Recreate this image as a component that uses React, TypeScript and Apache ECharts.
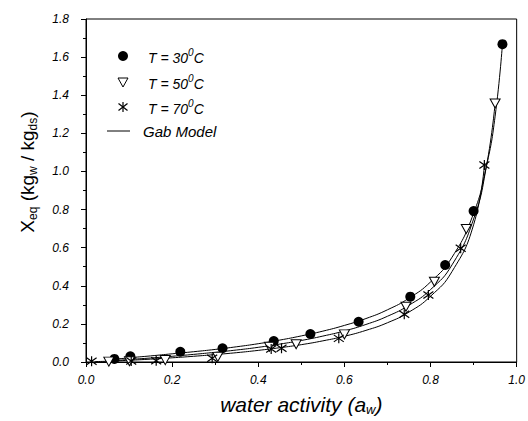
import React, { useEffect, useRef } from "react";
import * as echarts from "echarts";

const aw30 = [0.066, 0.103, 0.219, 0.317, 0.436, 0.521, 0.633, 0.753, 0.834, 0.900, 0.967];
const x30 = [0.016, 0.030, 0.054, 0.072, 0.110, 0.147, 0.211, 0.343, 0.509, 0.792, 1.668];
const aw50 = [0.053, 0.101, 0.184, 0.306, 0.426, 0.488, 0.600, 0.743, 0.809, 0.883, 0.950];
const x50 = [0.002, 0.004, 0.010, 0.027, 0.080, 0.093, 0.145, 0.290, 0.421, 0.698, 1.357];
const aw70 = [0.013, 0.105, 0.163, 0.293, 0.430, 0.454, 0.587, 0.739, 0.795, 0.870, 0.925];
const x70 = [0.004, 0.005, 0.006, 0.020, 0.068, 0.072, 0.124, 0.250, 0.352, 0.597, 1.034];

// GAB model curves
const gab30Aw = [0.05, 0.10, 0.15, 0.20, 0.25, 0.30, 0.35, 0.40, 0.45, 0.50, 0.55, 0.60, 0.65, 0.70, 0.75, 0.80, 0.85, 0.90, 0.93, 0.95, 0.967];
const gab30X = [0.010, 0.022, 0.032, 0.043, 0.054, 0.066, 0.080, 0.096, 0.115, 0.137, 0.162, 0.192, 0.228, 0.274, 0.335, 0.420, 0.550, 0.780, 1.030, 1.290, 1.668];
const gab50Aw = [0.05, 0.10, 0.15, 0.20, 0.25, 0.30, 0.35, 0.40, 0.45, 0.50, 0.55, 0.60, 0.65, 0.70, 0.75, 0.80, 0.85, 0.90, 0.93, 0.95];
const gab50X = [0.005, 0.013, 0.021, 0.030, 0.040, 0.051, 0.063, 0.077, 0.094, 0.113, 0.136, 0.163, 0.197, 0.240, 0.298, 0.380, 0.510, 0.750, 1.030, 1.357];
const gab70Aw = [0.02, 0.05, 0.10, 0.15, 0.20, 0.25, 0.30, 0.35, 0.40, 0.45, 0.50, 0.55, 0.60, 0.65, 0.70, 0.75, 0.80, 0.85, 0.90, 0.925];
const gab70X = [0.002, 0.004, 0.009, 0.015, 0.022, 0.030, 0.039, 0.049, 0.061, 0.075, 0.091, 0.111, 0.135, 0.166, 0.206, 0.262, 0.345, 0.475, 0.720, 1.034];

const xTicks = { min: 0, max: 1, interval: 0.2 };
const yTicks = { min: 0, max: 1.8, interval: 0.2 };

const legendLabels = ["30", "50", "70"];

const FONT = "'Liberation Sans', Arial, sans-serif";
const STAR = "path://M0,-5L0,5M-4.5,-3.5L4.5,3.5M-4.5,3.5L4.5,-3.5";

const zip = (a: number[], b: number[]) => a.map((v, i) => [v, b[i]]);

export default function App() {
  const ref = useRef<HTMLDivElement>(null);
  useEffect(() => {
    document.body.style.margin = "0";
    if (!ref.current) return;
    const chart = echarts.init(ref.current, null, { renderer: "svg" });
    const lineSeries = (d: number[][]) => ({
      type: "line",
      data: d,
      smooth: true,
      symbol: "none",
      lineStyle: { color: "#000", width: 1 },
      z: 2,
    });
    const legendRowY = [56, 82, 107];
    const legendText = (y: number, lbl: string) => ({
      type: "text",
      x: 148,
      y: y,
      style: {
        text: `{a|T = ${lbl}}{s|0}{a|C}`,
        verticalAlign: "middle",
        rich: {
          a: { fontFamily: FONT, fontStyle: "italic", fontSize: 14, fill: "#000", lineHeight: 18, verticalAlign: "bottom" },
          s: { fontFamily: FONT, fontStyle: "italic", fontSize: 10, fill: "#000", lineHeight: 18, verticalAlign: "top", padding: [0, 0, 4, 0] },
        },
      },
    });
    const tickLabel = {
      formatter: (v: number) => v.toFixed(1),
      fontFamily: FONT,
      fontStyle: "italic",
      fontSize: 12,
      color: "#000",
    };
    chart.setOption({
      animation: false,
      backgroundColor: "#fff",
      grid: { left: 86, top: 19, right: 11, bottom: 59, show: true, borderColor: "#000", borderWidth: 1 },
      xAxis: {
        type: "value",
        ...xTicks,
        name: "{n|water activity (a}{sub|w}{n|)}",
        nameLocation: "middle",
        nameGap: 30,
        nameTextStyle: {
          rich: {
            n: { fontFamily: FONT, fontStyle: "italic", fontSize: 21, color: "#000", lineHeight: 24, verticalAlign: "middle" },
            sub: { fontFamily: FONT, fontStyle: "italic", fontSize: 13, color: "#000", lineHeight: 14, verticalAlign: "bottom" },
          },
        },
        axisLine: { show: true, lineStyle: { color: "#000", width: 1 } },
        axisTick: { show: true, inside: false, length: 5, lineStyle: { color: "#000" } },
        minorTick: { show: true, splitNumber: 2, length: 3, lineStyle: { color: "#000" } },
        splitLine: { show: false },
        axisLabel: { ...tickLabel, margin: 12 },
      },
      yAxis: {
        type: "value",
        ...yTicks,
        axisLine: { show: true, lineStyle: { color: "#000", width: 1 } },
        axisTick: { show: true, inside: false, length: 5, lineStyle: { color: "#000" } },
        minorTick: { show: true, splitNumber: 2, length: 3, lineStyle: { color: "#000" } },
        splitLine: { show: false },
        axisLabel: { ...tickLabel, margin: 17 },
      },
      series: [
        lineSeries(zip(gab30Aw, gab30X)),
        lineSeries(zip(gab50Aw, gab50X)),
        lineSeries(zip(gab70Aw, gab70X)),
        {
          type: "scatter",
          data: zip(aw30, x30),
          symbol: "circle",
          symbolSize: 10,
          itemStyle: { color: "#000", opacity: 1 },
          z: 5,
        },
        {
          type: "scatter",
          data: zip(aw50, x50),
          symbol: "triangle",
          symbolRotate: 180,
          symbolSize: [10, 9],
          itemStyle: { color: "#fff", borderColor: "#000", borderWidth: 1, opacity: 1 },
          z: 5,
        },
        {
          type: "scatter",
          data: zip(aw70, x70),
          symbol: STAR,
          symbolSize: 10,
          itemStyle: { color: "#000", borderColor: "#000", borderWidth: 1.2, opacity: 1 },
          z: 6,
        },
      ],
      graphic: [
        {
          type: "text",
          x: 27,
          y: 172,
          rotation: Math.PI / 2,
          style: {
            text: "{n|X}{sub|eq}{n| (kg}{sub|w}{n| / kg}{sub|ds}{n|)}",
            align: "center",
            verticalAlign: "middle",
            rich: {
              n: { fontFamily: FONT, fontSize: 19, fill: "#000", lineHeight: 24, verticalAlign: "middle" },
              sub: { fontFamily: FONT, fontSize: 12, fill: "#000", lineHeight: 12, verticalAlign: "bottom" },
            },
          },
        },
        { type: "circle", shape: { cx: 123, cy: legendRowY[0], r: 5 }, style: { fill: "#000" } },
        {
          type: "polygon",
          shape: { points: [[118, legendRowY[1] - 4], [128, legendRowY[1] - 4], [123, legendRowY[1] + 5]] },
          style: { fill: "#fff", stroke: "#000", lineWidth: 1 },
        },
        { type: "line", shape: { x1: 123, y1: legendRowY[2] - 5, x2: 123, y2: legendRowY[2] + 5 }, style: { stroke: "#000", lineWidth: 1.2 } },
        { type: "line", shape: { x1: 118.5, y1: legendRowY[2] - 3.5, x2: 127.5, y2: legendRowY[2] + 3.5 }, style: { stroke: "#000", lineWidth: 1.2 } },
        { type: "line", shape: { x1: 118.5, y1: legendRowY[2] + 3.5, x2: 127.5, y2: legendRowY[2] - 3.5 }, style: { stroke: "#000", lineWidth: 1.2 } },
        { type: "line", shape: { x1: 107, y1: 131, x2: 130, y2: 131 }, style: { stroke: "#000", lineWidth: 1 } },
        legendText(legendRowY[0], legendLabels[0]),
        legendText(legendRowY[1], legendLabels[1]),
        legendText(legendRowY[2], legendLabels[2]),
        {
          type: "text",
          x: 143,
          y: 131,
          style: {
            text: "Gab Model",
            verticalAlign: "middle",
            font: "italic 15px " + FONT,
            fill: "#000",
          },
        },
      ],
    });
    return () => chart.dispose();
  }, []);
  return <div ref={ref} style={{ width: 528, height: 421 }} />;
}
